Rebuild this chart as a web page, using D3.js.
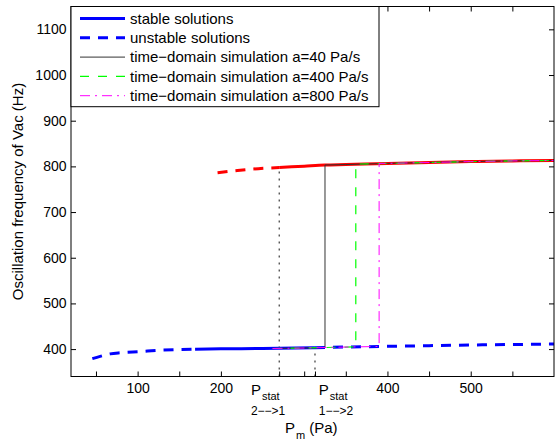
<!DOCTYPE html>
<html><head><meta charset="utf-8">
<script src="https://cdn.jsdelivr.net/npm/d3@7"></script>
<style>body{margin:0;background:#fff}svg{display:block;font-family:"Liberation Sans",Arial,Helvetica,sans-serif}</style>
</head><body>
<svg id="c" width="555" height="441"></svg>
<script>
// ---- data ----
const lowerUnstableLeftP = [45.6, 55, 67, 80, 103, 127, 150, 169];
const lowerUnstableLeftF = [379, 384, 389.5, 392, 394.6, 397.5, 399, 399.8];
const lowerStableP = [169, 200, 250, 313];
const lowerStableF = [399.8, 400.5, 401.5, 403];
const lowerUnstableRightP = [313, 350, 400, 450, 500, 550, 600];
const lowerUnstableRightF = [403, 404.5, 406, 407.5, 409, 410, 411];
const upperUnstableP = [196, 220, 245, 270];
const upperUnstableF = [786, 791, 795, 797.5];
const upperStableP = [270, 300, 325, 350, 400, 450, 500, 550, 600];
const upperStableF = [797.5, 800.5, 803, 804, 806.5, 808.5, 810.5, 812, 813];
const sim40P = [262, 300, 325, 325, 350, 400, 450, 500, 550, 600];
const sim40F = [401.3, 402.4, 403.5, 803, 804, 806.5, 808.5, 810.5, 812, 813];
const sim400P = [262, 300, 350, 362, 362, 400, 450, 500, 550, 600];
const sim400F = [401.3, 402.4, 404.5, 404.8, 805, 806.5, 808.5, 810.5, 812, 813];
const sim800P = [262, 300, 350, 390, 390, 450, 500, 550, 600];
const sim800F = [401.3, 402.4, 404.5, 405.7, 806.3, 808.5, 810.5, 812, 813];
const pStat21 = 270, pStat12 = 313;
const pStat21F = 797.5, pStat12F = 398;
const xTickValues = [50, 100, 150, 200, 270, 300, 313, 350, 400, 450, 500, 550];
const xTickLabels = ["", "100", "", "200", "", "", "", "", "400", "", "500", ""];
const yTickValues = [400, 500, 600, 700, 800, 900, 1000, 1100];
const legendLabels = ["stable solutions", "unstable solutions",
  "time\u2212domain simulation a=40 Pa/s", "time\u2212domain simulation a=400 Pa/s",
  "time\u2212domain simulation a=800 Pa/s"];

// ---- scales ----
const L = 71, R = 554, T = 6.5, B = 376.5;
const x = d3.scaleLinear([20, 600], [L, R]);
const y = d3.scaleLinear([340, 1150], [B, T]);
const svg = d3.select("#c");
const zip = (P, F) => P.map((p, i) => [p, F[i]]);
const line = d3.line().x(d => x(d[0])).y(d => y(d[1])).curve(d3.curveMonotoneX);
const lineLin = d3.line().x(d => x(d[0])).y(d => y(d[1]));

const styles = {
  stable: {stroke: "#0000ff", w: 3, dash: null},
  unstable: {stroke: "#0000ff", w: 3, dash: "10,8"},
  s40: {stroke: "#333", w: 1, dash: null},
  s400: {stroke: "#00ff00", w: 1.2, dash: "9,9"},
  s800: {stroke: "#ff00ff", w: 1, dash: "10,5,2,5"}
};

const plot = svg.append("g");
// dotted switching lines
plot.append("path").attr("d", lineLin([[pStat21, 340], [pStat21, pStat21F]]))
  .attr("stroke", "#111").attr("stroke-width", 1).attr("stroke-dasharray", "2,5").attr("fill", "none");
plot.append("path").attr("d", lineLin([[pStat12, 340], [pStat12, pStat12F]]))
  .attr("stroke", "#111").attr("stroke-width", 1).attr("stroke-dasharray", "2,5").attr("fill", "none");

function draw(P, F, color, w, dash, gen) {
  const p = plot.append("path").attr("d", (gen || line)(zip(P, F)))
    .attr("fill", "none").attr("stroke", color).attr("stroke-width", w);
  if (dash) p.attr("stroke-dasharray", dash);
}
draw(upperUnstableP, upperUnstableF, "#ff0000", 3, "10,8");
draw(upperStableP, upperStableF, "#ff0000", 3, null);
draw(lowerUnstableLeftP, lowerUnstableLeftF, "#0000ff", 3, "10,8");
draw(lowerStableP, lowerStableF, "#0000ff", 3, null);
draw(lowerUnstableRightP, lowerUnstableRightF, "#0000ff", 3, "10,8");
draw(sim40P, sim40F, styles.s40.stroke, styles.s40.w, null, lineLin);
draw(sim400P, sim400F, styles.s400.stroke, styles.s400.w, styles.s400.dash, lineLin);
draw(sim800P, sim800F, styles.s800.stroke, styles.s800.w, styles.s800.dash, lineLin);

// ---- axes ----
const fs = "14px";
const gx = svg.append("g").attr("transform", `translate(0,${B})`)
  .call(d3.axisBottom(x).tickValues(xTickValues).tickFormat((d, i) => xTickLabels[i])
    .tickSizeInner(-5).tickSizeOuter(0).tickPadding(6.5));
const gxt = svg.append("g").attr("transform", `translate(0,${T})`)
  .call(d3.axisTop(x).tickValues(xTickValues).tickFormat("").tickSizeInner(-5).tickSizeOuter(0));
const gy = svg.append("g").attr("transform", `translate(${L},0)`)
  .call(d3.axisLeft(y).tickValues(yTickValues).tickFormat(d3.format("d"))
    .tickSizeInner(-5).tickSizeOuter(0).tickPadding(4.5));
const gyr = svg.append("g").attr("transform", `translate(${R},0)`)
  .call(d3.axisRight(y).tickValues(yTickValues).tickFormat("").tickSizeInner(-5).tickSizeOuter(0));
[gx, gxt, gy, gyr].forEach(g => {
  g.select(".domain").remove();
  g.selectAll("text").attr("font-size", fs).attr("fill", "#000")
    .attr("font-family", '"Liberation Sans",Arial,sans-serif');
  g.selectAll("line").attr("stroke", "#000");
});
svg.append("rect").attr("x", L).attr("y", T).attr("width", R - L).attr("height", B - T)
  .attr("fill", "none").attr("stroke", "#000").attr("stroke-width", 1);

// P_stat tick labels
function pstat(px, sub) {
  const t = svg.append("text").attr("x", x(px)).attr("y", 395).attr("font-size", "15px");
  t.append("tspan").text("P");
  t.append("tspan").attr("font-size", "11px").attr("dy", 5).attr("dx", 1).text("stat");
  svg.append("text").attr("x", x(px)).attr("y", 415).attr("font-size", "12px").text(sub);
}
pstat(236, "2\u2212\u2212>1");
pstat(317.5, "1\u2212\u2212>2");

// x label
const xl = svg.append("text").attr("x", 285).attr("y", 433).attr("font-size", "15px");
xl.append("tspan").text("P");
xl.append("tspan").attr("font-size", "11px").attr("dy", 6).attr("dx", 1).text("m");
xl.append("tspan").attr("dy", -6).attr("dx", 4).text("(Pa)");

// y label
svg.append("text").attr("transform", `translate(23,${(T + B) / 2}) rotate(-90)`)
  .attr("text-anchor", "middle").attr("font-size", "15px").text("Oscillation frequency of Vac (Hz)");

// ---- legend ----
const lg = svg.append("g");
lg.append("rect").attr("x", L).attr("y", T).attr("width", 379 - L).attr("height", 106.7 - T)
  .attr("fill", "#fff").attr("stroke", "#000").attr("stroke-width", 1);
const lStyles = [styles.stable, styles.unstable, styles.s40, styles.s400, styles.s800];
legendLabels.forEach((lab, i) => {
  const cy = 18.5 + i * 19.3;
  const ln = lg.append("line").attr("x1", 80).attr("x2", 125).attr("y1", cy).attr("y2", cy)
    .attr("stroke", lStyles[i].stroke).attr("stroke-width", lStyles[i].w);
  if (lStyles[i].dash) ln.attr("stroke-dasharray", lStyles[i].dash);
  lg.append("text").attr("x", 130).attr("y", cy).attr("dy", "0.35em")
    .attr("font-size", "15px").text(lab);
});
</script>
</body></html>
